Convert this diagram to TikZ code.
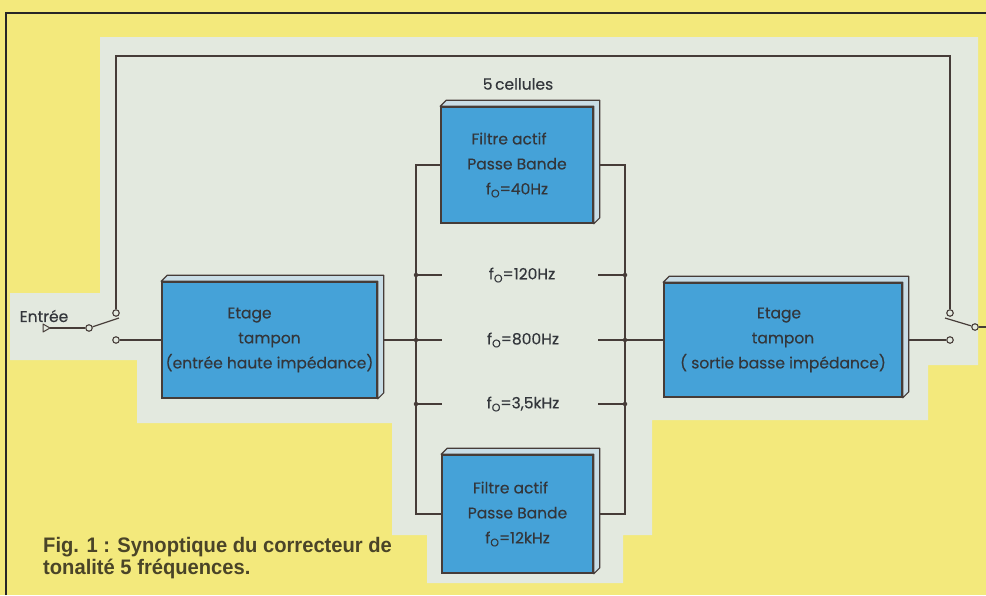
\documentclass[tikz,border=0pt]{standalone}
\usepackage{fontspec}
\setmainfont{Poppins}[FakeBold=0.3]
\newfontfamily\capfont[FakeStretch=0.96]{Liberation Sans}
\usetikzlibrary{calc}
\definecolor{bgyellow}{HTML}{F3E97C}
\definecolor{panel}{HTML}{E3E9DF}
\definecolor{boxblue}{HTML}{45A2D8}
\definecolor{sideblue}{HTML}{C9DDE6}
\definecolor{wire}{HTML}{463C38}
\definecolor{txt}{HTML}{33363B}
\definecolor{captxt}{HTML}{4A4428}
\newcommand\fo{f\raisebox{-0.35ex}{\fontsize{11}{11}\selectfont O}}
\newcommand\depthbox[1]{\filldraw[side] (#1.north west) -- ($(#1.north west)+(6,-6)$) -- ($(#1.north east)+(6,-6)$) -- ($(#1.south east)+(6,-6)$) -- (#1.south east) -- (#1.north east) -- cycle;}
\begin{document}
\begin{tikzpicture}[x=1pt,y=-1pt,
  wireline/.style={draw=wire,line width=1.2pt},
  blockbox/.style={draw=wire,line width=1.6pt,fill=boxblue,inner sep=0pt,align=center,text=txt,font=\fontsize{15.5}{25}\selectfont},
  side/.style={draw=wire,line width=1.2pt,fill=sideblue,line join=round},
  term/.style={circle,draw=wire,line width=1.1pt,fill=panel,inner sep=0pt,minimum size=6.5pt},
  jdot/.style={circle,fill=wire,inner sep=0pt,minimum size=4.5pt},
  lbl/.style={text=txt,font=\fontsize{15.5}{18}\selectfont,inner sep=0pt},
  caption/.style={text=captxt,font=\capfont\bfseries\fontsize{21}{22}\selectfont,inner sep=0pt,anchor=base west}]
\useasboundingbox (0,0) rectangle (986,595);
\fill[bgyellow] (0,0) rectangle (986,595);
\fill[panel] (100,37) -- (978,37) -- (978,365) -- (928,365) -- (928,420) -- (652,420) -- (652,535) -- (623,535) -- (623,583) -- (427,583) -- (427,535) -- (392,535) -- (392,423) -- (137,423) -- (137,360) -- (10,360) -- (10,293) -- (100,293) -- cycle;
\draw[draw=black!85,line width=2pt] (5.5,595) -- (5.5,12.5) -- (986,12.5);

% blocks
\node[blockbox,minimum width=215pt,minimum height=116pt] (L) at (269.5,340) {Etage\hspace*{40pt}\\tampon\hspace*{24pt}\\(entrée haute impédance)};
\node[blockbox,minimum width=238pt,minimum height=114pt] (R) at (783,340) {Etage\hspace*{8pt}\\tampon\hspace*{8pt}\\( sortie basse impédance)};
\node[blockbox,minimum width=152pt,minimum height=116pt] (T) at (517,165) {Filtre actif\hspace*{16pt}\\Passe Bande\\\fo=40Hz};
\node[blockbox,minimum width=151pt,minimum height=118pt] (B) at (517.5,514) {Filtre actif\hspace*{14pt}\\Passe Bande\\\fo=12kHz};
\depthbox{L}
\depthbox{R}
\depthbox{T}
\depthbox{B}

% labels
\node[lbl] (cells) at (518,84) {5\,cellules};
\node[lbl] (f1) at (522,275) {\fo=120Hz};
\node[lbl] (f2) at (523,340) {\fo=800Hz};
\node[lbl] (f3) at (523,404) {\fo=3,5kHz};
\node[lbl] (entree) at (44,316) {Entrée};
\node[caption] (cap1) at (43,552) {Fig. 1 : Synoptique du correcteur de};
\node[caption] (cap2) at (43,574) {tonalité 5 fréquences.};

% switch terminals
\node[term] (c1) at (89,328) {};
\node[term] (c2) at (116,313) {};
\node[term] (c3) at (116,340) {};
\node[term] (d1) at (975,327) {};
\node[term] (d2) at (950,313) {};
\node[term] (d3) at (950,340) {};
\coordinate (inp) at (50,328);
\coordinate (outp) at (986,327);
\coordinate (topL) at (116,56);
\coordinate (topR) at (950,56);
\coordinate (bladeL) at (119,318);
\coordinate (bladeR) at (945,318);

% buses
\coordinate (lbT) at (416,165);
\coordinate (lbB) at (416,514);
\coordinate (rbT) at (625,165);
\coordinate (rbB) at (625,514);
\node[jdot] (l1) at (416,275) {};
\node[jdot] (l2) at (416,340) {};
\node[jdot] (l3) at (416,404) {};
\node[jdot] (r1) at (625,275) {};
\node[jdot] (r2) at (625,340) {};
\node[jdot] (r3) at (625,404) {};
\coordinate (l1e) at (442,275);
\coordinate (l2e) at (442,340);
\coordinate (l3e) at (442,404);
\coordinate (r1e) at (598,275);
\coordinate (r3e) at (598,404);
\coordinate (r2s) at (598,340);

% wiring
\draw[wireline] (T.west) -- (lbT) -- (lbB) -- (B.west);
\draw[wireline] ($(T.east)+(6,0)$) -- (rbT) -- (rbB) -- ($(B.east)+(6,0)$);
\draw[wireline] ($(L.east)+(6,0)$) -- (l2) -- (l2e);
\draw[wireline] (l1) -- (l1e);
\draw[wireline] (l3) -- (l3e);
\draw[wireline] (r2s) -- (r2) -- (R.west);
\draw[wireline] (r1e) -- (r1);
\draw[wireline] (r3e) -- (r3);
\draw[wireline] (c3) -- (L.west);
\draw[wireline] ($(R.east)+(6,0)$) -- (d3);
\draw[wireline] (c2) -- (topL) -- (topR) -- (d2);
\draw[wireline] (inp) -- (c1);
\draw[wireline] (c1) -- (bladeL);
\draw[wireline] (bladeR) -- (d1);
\draw[wireline] (d1) -- (outp);
\draw[draw=wire,line width=1pt,line join=round] (43,324) -- (inp) -- (43,332) -- cycle;
\end{tikzpicture}
\end{document}
